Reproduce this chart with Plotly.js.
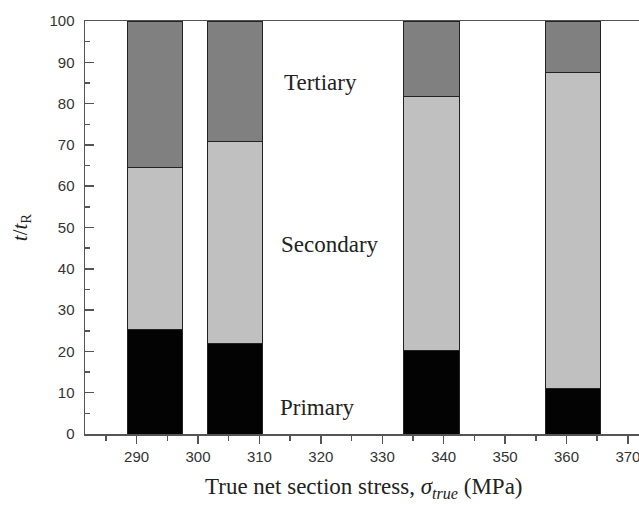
<!DOCTYPE html>
<html>
<head>
<meta charset="utf-8">
<script src="https://cdn.plot.ly/plotly-3.0.1.min.js"></script>
<style>html,body{margin:0;padding:0;background:#fff;}#chart{width:639px;height:505px;}</style>
</head>
<body>
<div id="chart"></div>
<script>
const stress = [293, 306, 338, 361];
const primary = [25.3, 21.9, 20.3, 10.9];
const secondary = [39.2, 48.9, 61.3, 76.6];
const tertiary = [35.5, 29.2, 18.4, 12.5];
const xTicks = [290, 300, 310, 320, 330, 340, 350, 360, 370];
const yTicks = [0, 10, 20, 30, 40, 50, 60, 70, 80, 90, 100];
const stageLabels = ['Primary', 'Secondary', 'Tertiary'];
const stageLabelX = [319.5, 321.5, 320];
const stageLabelY = [6.5, 45.8, 85.2];
const xTitle = 'True net section stress, <i>σ</i><sub><i>true</i></sub> (MPa)';
const yTitle = '<i>t</i>/<i>t</i><sub>R</sub>';

const serif = 'Liberation Serif, Times New Roman, serif';
const barW = 9;
const line = {color: '#222', width: 1};
const traces = [
  {type: 'bar', name: 'Primary', x: stress, y: primary, width: barW, marker: {color: '#030303', line: line}},
  {type: 'bar', name: 'Secondary', x: stress, y: secondary, width: barW, marker: {color: '#c0c0c0', line: line}},
  {type: 'bar', name: 'Tertiary', x: stress, y: tertiary, width: barW, marker: {color: '#808080', line: line}}
];

const annotations = stageLabels.map((t, i) => ({
  x: stageLabelX[i], y: stageLabelY[i], xref: 'x', yref: 'y', text: t, showarrow: false,
  font: {family: serif, size: 23, color: '#222'}
}));
annotations.push({
  x: 0.504, y: -0.131, xref: 'paper', yref: 'paper', xanchor: 'center', yanchor: 'middle',
  text: xTitle, showarrow: false, font: {family: serif, size: 23, color: '#222'}
});

const layout = {
  width: 639, height: 505,
  margin: {l: 85, r: 0, t: 21, b: 71},
  paper_bgcolor: '#fff', plot_bgcolor: '#fff',
  barmode: 'stack', showlegend: false,
  xaxis: {
    range: [281.6, 371.8], tickvals: xTicks, ticktext: xTicks.map(String),
    showgrid: false, zeroline: false, showline: true, linecolor: '#555', linewidth: 1.5, mirror: true,
    ticks: 'outside', ticklen: 8, tickwidth: 1.5, tickcolor: '#555',
    minor: {dtick: 5, tick0: 285, ticks: 'outside', ticklen: 5, tickwidth: 1.5, tickcolor: '#555'},
    tickfont: {family: 'Liberation Sans, Arial, sans-serif', size: 15, color: '#333'},
    ticklabeloverflow: 'allow'
  },
  yaxis: {
    range: [0, 100], tickvals: yTicks, ticktext: yTicks.map(String),
    showgrid: false, zeroline: false, showline: true, linecolor: '#555', linewidth: 1.5,
    ticks: 'inside', ticklen: 9, tickwidth: 1.5, tickcolor: '#555',
    minor: {dtick: 5, tick0: 5, ticks: 'inside', ticklen: 5, tickwidth: 1.5, tickcolor: '#555'},
    tickfont: {family: 'Liberation Sans, Arial, sans-serif', size: 15, color: '#333'},
    ticklabelstandoff: 6,
    title: {text: yTitle, standoff: 16, font: {family: serif, size: 21, color: '#222'}}
  },
  annotations: annotations
};

Plotly.newPlot('chart', traces, layout, {displayModeBar: false, staticPlot: true});
</script>
</body>
</html>
